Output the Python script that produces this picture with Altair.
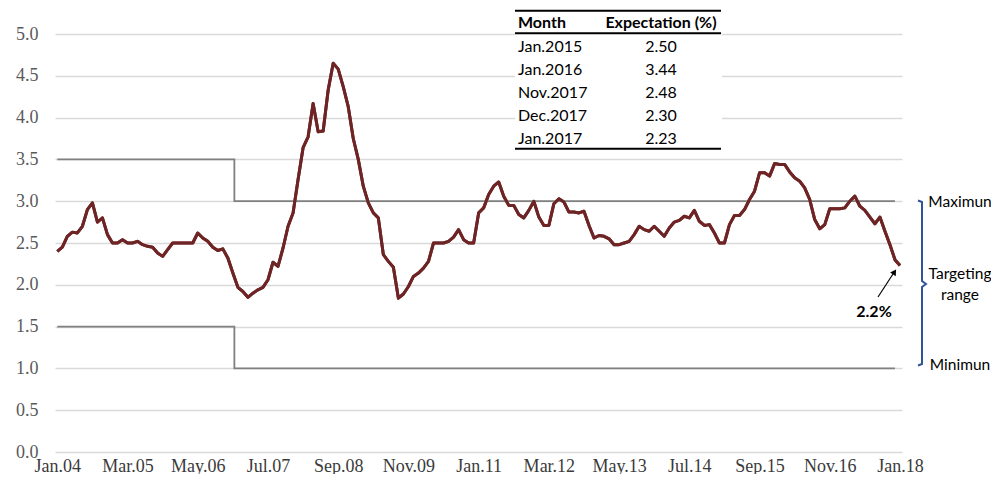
import json
import altair as alt
import pandas as pd

# ---------------- data ----------------
expectations = [
    2.40, 2.45, 2.58, 2.63, 2.62, 2.70, 2.90, 2.98, 2.75, 2.80, 2.60, 2.50,
    2.50, 2.54, 2.50, 2.50, 2.52, 2.48, 2.46, 2.45, 2.38, 2.34, 2.42, 2.50,
    2.50, 2.50, 2.50, 2.50, 2.62, 2.56, 2.52, 2.45, 2.41, 2.43, 2.32, 2.14,
    1.97, 1.92, 1.85, 1.90, 1.94, 1.97, 2.06, 2.27, 2.22, 2.44, 2.70, 2.86,
    3.26, 3.64, 3.77, 4.17, 3.83, 3.84, 4.33, 4.65, 4.58, 4.37, 4.13, 3.75,
    3.50, 3.18, 2.98, 2.86, 2.80, 2.36, 2.28, 2.21, 1.84, 1.89, 1.98, 2.10,
    2.14, 2.20, 2.28, 2.50, 2.50, 2.50, 2.52, 2.57, 2.66, 2.54, 2.50, 2.50,
    2.86, 2.92, 3.08, 3.18, 3.23, 3.06, 2.95, 2.95, 2.84, 2.80, 2.89, 3.00,
    2.81, 2.71, 2.71, 2.97, 3.03, 2.99, 2.87, 2.87, 2.86, 2.88, 2.71, 2.56,
    2.59, 2.58, 2.55, 2.48, 2.48, 2.50, 2.52, 2.60, 2.70, 2.66, 2.64, 2.70,
    2.64, 2.58, 2.68, 2.75, 2.77, 2.82, 2.80, 2.89, 2.76, 2.71, 2.72, 2.62,
    2.50, 2.50, 2.72, 2.83, 2.83, 2.90, 3.02, 3.12, 3.34, 3.34, 3.30, 3.45,
    3.44, 3.44, 3.35, 3.28, 3.24, 3.16, 3.02, 2.78, 2.67, 2.72, 2.91, 2.91,
    2.91, 2.92, 3.00, 3.06, 2.94, 2.89, 2.81, 2.73, 2.81, 2.64, 2.48, 2.30,
    2.23,
]
month_index = list(range(len(expectations)))

tick_labels = ["Jan.04", "Mar.05", "May.06", "Jul.07", "Sep.08", "Nov.09", "Jan.11",
               "Mar.12", "May.13", "Jul.14", "Sep.15", "Nov.16", "Jan.18"]
tick_step = 14

target_months = [0, 35.3, 167]
target_max = [3.5, 3.0, 3.0]
target_min = [1.5, 1.0, 1.0]

table_months = ["Jan.2015", "Jan.2016", "Nov.2017", "Dec.2017", "Jan.2017"]
table_values = ["2.50", "3.44", "2.48", "2.30", "2.23"]
table_header = ["Month", "Expectation (%)"]

y_ticks = [0.0, 0.5, 1.0, 1.5, 2.0, 2.5, 3.0, 3.5, 4.0, 4.5, 5.0]

# ---------------- styles ----------------
W, H = 847, 418
SERIF = "Liberation Serif"
SANS = "Lato"
LINE_COLOR = "#6E2424"
TARGET_COLOR = "#808080"
GRID_COLOR = "#D9D9D9"
BRACKET_COLOR = "#2F5597"

series = pd.DataFrame({"m": month_index, "v": expectations})
targets = pd.DataFrame({"m": target_months, "hi": target_max, "lo": target_min})
one = pd.DataFrame({"a": [0]})

x_scale = alt.Scale(domain=[-0.46, 168.4], nice=False, zero=False)
y_scale = alt.Scale(domain=[0, 5], nice=False)

label_expr = json.dumps(tick_labels) + "[round(datum.value / %d)]" % tick_step

x_axis = alt.Axis(values=[i * tick_step for i in range(len(tick_labels))],
                  labelExpr=label_expr, title=None, grid=False, ticks=False,
                  domain=False, labelFont=SERIF, labelFontSize=18,
                  labelColor="#3A3A3A", labelPadding=5, labelOverlap=False,
                  labelFlush=False)
y_axis = alt.Axis(values=y_ticks, format=".1f", title=None, grid=True,
                  gridColor=GRID_COLOR, gridWidth=1.5, ticks=False, domain=False,
                  labelFont=SERIF, labelFontSize=18, labelColor="#595959",
                  labelPadding=17)

main = alt.Chart(series).mark_line(color=LINE_COLOR, strokeWidth=3,
                                   strokeJoin="round").encode(
    x=alt.X("m:Q", scale=x_scale, axis=x_axis),
    y=alt.Y("v:Q", scale=y_scale, axis=y_axis),
)

upper = alt.Chart(targets).mark_line(interpolate="step-after", color=TARGET_COLOR,
                                     strokeWidth=1.8).encode(
    x=alt.X("m:Q", scale=x_scale), y=alt.Y("hi:Q", scale=y_scale))
lower = alt.Chart(targets).mark_line(interpolate="step-after", color=TARGET_COLOR,
                                     strokeWidth=1.8).encode(
    x=alt.X("m:Q", scale=x_scale), y=alt.Y("lo:Q", scale=y_scale))

# ---- table (pixel positions relative to plot area) ----
tab_left, tab_right = 460, 666
table_bg = alt.Chart(one).mark_rect(color="white").encode(
    x=alt.value(tab_left), x2=alt.value(tab_right + 1),
    y=alt.value(-24), y2=alt.value(115))
rules_df = pd.DataFrame({"py": [-23.3, -0.7, 114.7]})
table_rules = alt.Chart(rules_df).mark_rule(color="black", strokeWidth=2).encode(
    x=alt.value(tab_left), x2=alt.value(tab_right),
    y=alt.Y("py:Q", scale=None))
head1 = alt.Chart(one).mark_text(text=table_header[0], font=SANS, fontSize=16,
                                 fontWeight="bold", align="left", baseline="middle",
                                 color="black").encode(x=alt.value(463), y=alt.value(-11))
head2 = alt.Chart(one).mark_text(text=table_header[1], font=SANS, fontSize=16,
                                 fontWeight="bold", align="center", baseline="middle",
                                 color="black").encode(x=alt.value(606), y=alt.value(-11))
tab_df = pd.DataFrame({"month": table_months, "val": table_values,
                       "row": list(range(len(table_months)))})
tab_base = alt.Chart(tab_df).transform_calculate(py="12.7 + 23 * datum.row")
tab_month = tab_base.mark_text(font=SANS, fontSize=16, align="left", baseline="middle",
                               color="black").encode(
    x=alt.value(463), y=alt.Y("py:Q", scale=None), text="month:N")
tab_val = tab_base.mark_text(font=SANS, fontSize=16, align="center", baseline="middle",
                             color="black").encode(
    x=alt.value(606), y=alt.Y("py:Q", scale=None), text="val:N")

# ---- bracket & labels ----
bracket_df = pd.DataFrame({
    "px": [863, 867, 867, 871, 867, 867, 863],
    "py": [166.5, 168, 247, 250, 253, 330, 331.5],
    "o": list(range(7)),
})
bracket = alt.Chart(bracket_df).mark_line(color=BRACKET_COLOR, strokeWidth=2).encode(
    x=alt.X("px:Q", scale=None), y=alt.Y("py:Q", scale=None), order="o:Q")
lab_df = pd.DataFrame({
    "t": ["Maximun", "Targeting", "range", "Minimun"],
    "px": [905, 905, 905, 905],
    "py": [168, 240, 261, 331],
})
bracket_labels = alt.Chart(lab_df).mark_text(font=SANS, fontSize=15.5, align="center",
                                             baseline="middle", color="black").encode(
    x=alt.X("px:Q", scale=None), y=alt.Y("py:Q", scale=None), text="t:N")

# ---- 2.2% annotation ----
ann = alt.Chart(one).mark_text(text="2.2%", font=SANS, fontSize=16, fontWeight="bold",
                               align="center", baseline="middle", color="black").encode(
    x=alt.value(819), y=alt.value(278))
arrow_line = alt.Chart(one).mark_rule(color="black", strokeWidth=1.2).encode(
    x=alt.value(823), y=alt.value(263), x2=alt.value(838), y2=alt.value(240))
arrow_head = alt.Chart(one).mark_point(shape="triangle-up", filled=True, color="black",
                                       size=45, angle=33, opacity=1).encode(
    x=alt.value(839.5), y=alt.value(238))

chart = alt.layer(
    main, upper, lower, table_bg, table_rules, head1, head2, tab_month, tab_val,
    bracket, bracket_labels, ann, arrow_line, arrow_head, main,
).properties(
    width=W, height=H,
    autosize=alt.AutoSizeParams(type="none"),
    padding={"left": 47, "top": 26, "right": 89, "bottom": 22},
).configure_view(stroke=None)

chart.save("out.html", embed_options={"renderer": "svg", "actions": False})
